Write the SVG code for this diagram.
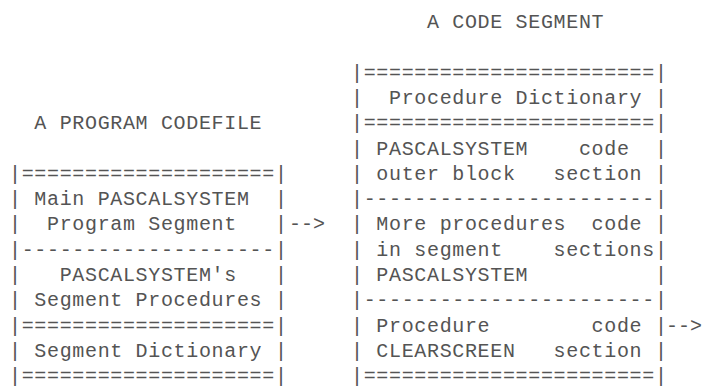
<svg xmlns="http://www.w3.org/2000/svg" width="704" height="387" viewBox="0 0 704 387" xml:space="preserve">
<style>
.t{font-family:"Liberation Mono","DejaVu Sans Mono",monospace;font-size:20px;letter-spacing:0.66px;fill:#545454;white-space:pre}
.a{font-family:"Liberation Mono","DejaVu Sans Mono",monospace;font-size:20px;fill:#545454;white-space:pre}
</style>
<rect x="0" y="0" width="704" height="387" fill="#ffffff"/>
<g id="program-codefile">
<text class="t" x="9" y="129">  A PROGRAM CODEFILE</text>
<text class="t" x="9" y="180">|====================|</text>
<text class="t" x="9" y="205">| Main PASCALSYSTEM  |</text>
<text class="t" x="9" y="230">|  Program Segment   |</text>
<text class="t" x="9" y="256">|--------------------|</text>
<text class="t" x="9" y="281">|   PASCALSYSTEM's   |</text>
<text class="t" x="9" y="306">| Segment Procedures |</text>
<text class="t" x="9" y="332">|====================|</text>
<text class="t" x="9" y="357">| Segment Dictionary |</text>
<text class="t" x="9" y="382">|====================|</text>
</g>
<g id="code-segment">
<text class="t" x="351" y="28">      A CODE SEGMENT</text>
<text class="t" x="351" y="79">|=======================|</text>
<text class="t" x="351" y="104">|  Procedure Dictionary |</text>
<text class="t" x="351" y="129">|=======================|</text>
<text class="t" x="351" y="155">| PASCALSYSTEM    code  |</text>
<text class="t" x="351" y="180">| outer block   section |</text>
<text class="t" x="351" y="205">|-----------------------|</text>
<text class="t" x="351" y="230">| More procedures  code |</text>
<text class="t" x="351" y="256">| in segment    sections|</text>
<text class="t" x="351" y="281">| PASCALSYSTEM          |</text>
<text class="t" x="351" y="306">|-----------------------|</text>
<text class="t" x="351" y="332">| Procedure        code |</text>
<text class="t" x="351" y="357">| CLEARSCREEN   section |</text>
<text class="t" x="351" y="382">|=======================|</text>
</g>
<g id="connectors">
<text class="a" x="289" y="230">--&gt;</text>
<text class="a" x="666" y="332">--&gt;</text>
</g>
</svg>
